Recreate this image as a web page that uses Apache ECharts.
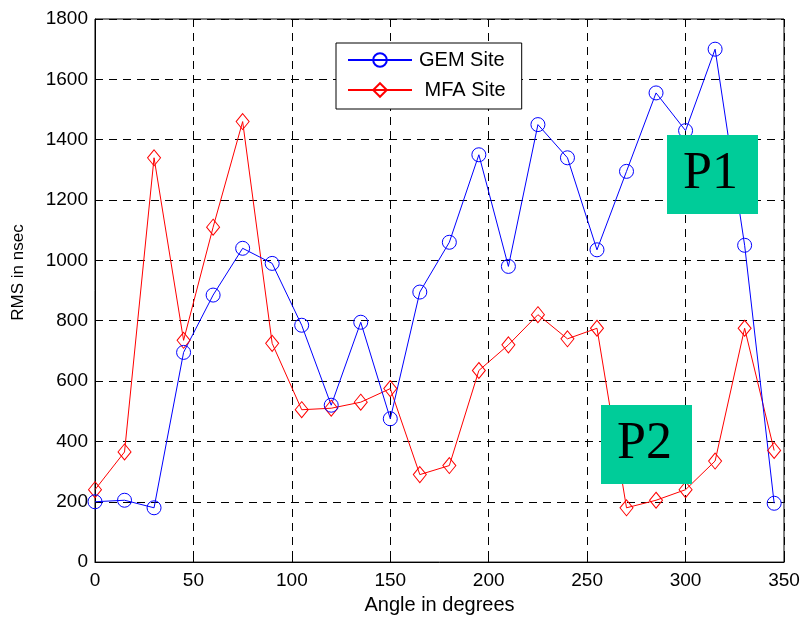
<!DOCTYPE html>
<html>
<head>
<meta charset="utf-8">
<script src="https://cdn.jsdelivr.net/npm/echarts@6/dist/echarts.min.js"></script>
<style>html,body{margin:0;padding:0;background:#fff;}#c{width:803px;height:620px;}</style>
</head>
<body>
<div id="c"></div>
<script>
const angles = [0,15,30,45,60,75,90,105,120,135,150,165,180,195,210,225,240,255,270,285,300,315,330,345];
const gemSite = [200,205,180,695,885,1040,990,785,520,795,475,895,1060,1350,980,1450,1340,1035,1295,1555,1430,1700,1050,195];
const mfaSite = [240,365,1340,735,1110,1460,725,505,510,530,575,290,320,635,720,820,740,775,180,205,240,335,775,370];
const xTicks = [0,50,100,150,200,250,300,350];
const yTicks = [0,200,400,600,800,1000,1200,1400,1600,1800];

const chart = echarts.init(document.getElementById('c'));
const font = 'Liberation Sans, Arial, sans-serif';
const dash = {color:'#000', width:1, type:[8,6]};
chart.setOption({
  animation:false,
  backgroundColor:'#fff',
  grid:{left:95,right:19,top:19,bottom:57,show:true,borderColor:'#000',borderWidth:1,containLabel:false},
  legend:{
    left:336, top:43, orient:'vertical', itemGap:10,
    itemWidth:64, itemHeight:17,
    padding:[7,16,9,11],
    borderColor:'#000', borderWidth:1, backgroundColor:'#fff',
    textStyle:{fontFamily:font,fontSize:20,color:'#000',padding:[0,0,0,2]},
    data:[{name:'GEM Site'},{name:' MFA Site'}]
  },
  xAxis:{
    type:'value', min:xTicks[0], max:xTicks[xTicks.length-1], interval:50,
    name:'Angle in degrees', nameLocation:'middle', nameGap:32,
    nameTextStyle:{fontFamily:font,fontSize:20,color:'#000'},
    axisLine:{lineStyle:{color:'#000',width:1}},
    axisTick:{inside:true,length:5,lineStyle:{color:'#000'}},
    axisLabel:{fontFamily:font,fontSize:19,color:'#000',margin:9,formatter:v=>String(v)},
    splitLine:{show:true,lineStyle:dash}
  },
  yAxis:{
    type:'value', min:yTicks[0], max:yTicks[yTicks.length-1], interval:200,
    name:'RMS in nsec', nameLocation:'middle', nameGap:68,
    nameTextStyle:{fontFamily:font,fontSize:17,color:'#000',padding:[0,0,0,36]},
    axisLine:{show:true,lineStyle:{color:'#000',width:1}},
    axisTick:{show:true,inside:true,length:5,lineStyle:{color:'#000'}},
    axisLabel:{fontFamily:font,fontSize:19,color:'#000',margin:7,formatter:v=>String(v)},
    splitLine:{show:true,lineStyle:dash}
  },
  series:[
    {name:' MFA Site',type:'line',data:angles.map((a,i)=>[a,mfaSite[i]]),
     symbol:'diamond',symbolSize:[13,16],
     lineStyle:{color:'#ff0000',width:1},itemStyle:{color:'rgba(0,0,0,0)',borderColor:'#ff0000',borderWidth:1}},
    {name:'GEM Site',type:'line',data:angles.map((a,i)=>[a,gemSite[i]]),
     symbol:'circle',symbolSize:14,
     lineStyle:{color:'#0000ff',width:1},itemStyle:{color:'rgba(0,0,0,0)',borderColor:'#0000ff',borderWidth:1}}
  ],
  graphic:[
    {type:'rect',left:667,top:135,shape:{width:91,height:79},style:{fill:'#00cc99'},z:100},
    {type:'text',left:683,top:148,style:{text:'P1',font:'52px "Liberation Serif", "Times New Roman", serif',fill:'#000'},z:101},
    {type:'rect',left:601,top:405,shape:{width:91,height:79},style:{fill:'#00cc99'},z:100},
    {type:'text',left:617,top:418,style:{text:'P2',font:'52px "Liberation Serif", "Times New Roman", serif',fill:'#000'},z:101}
  ]
});
</script>
</body>
</html>
